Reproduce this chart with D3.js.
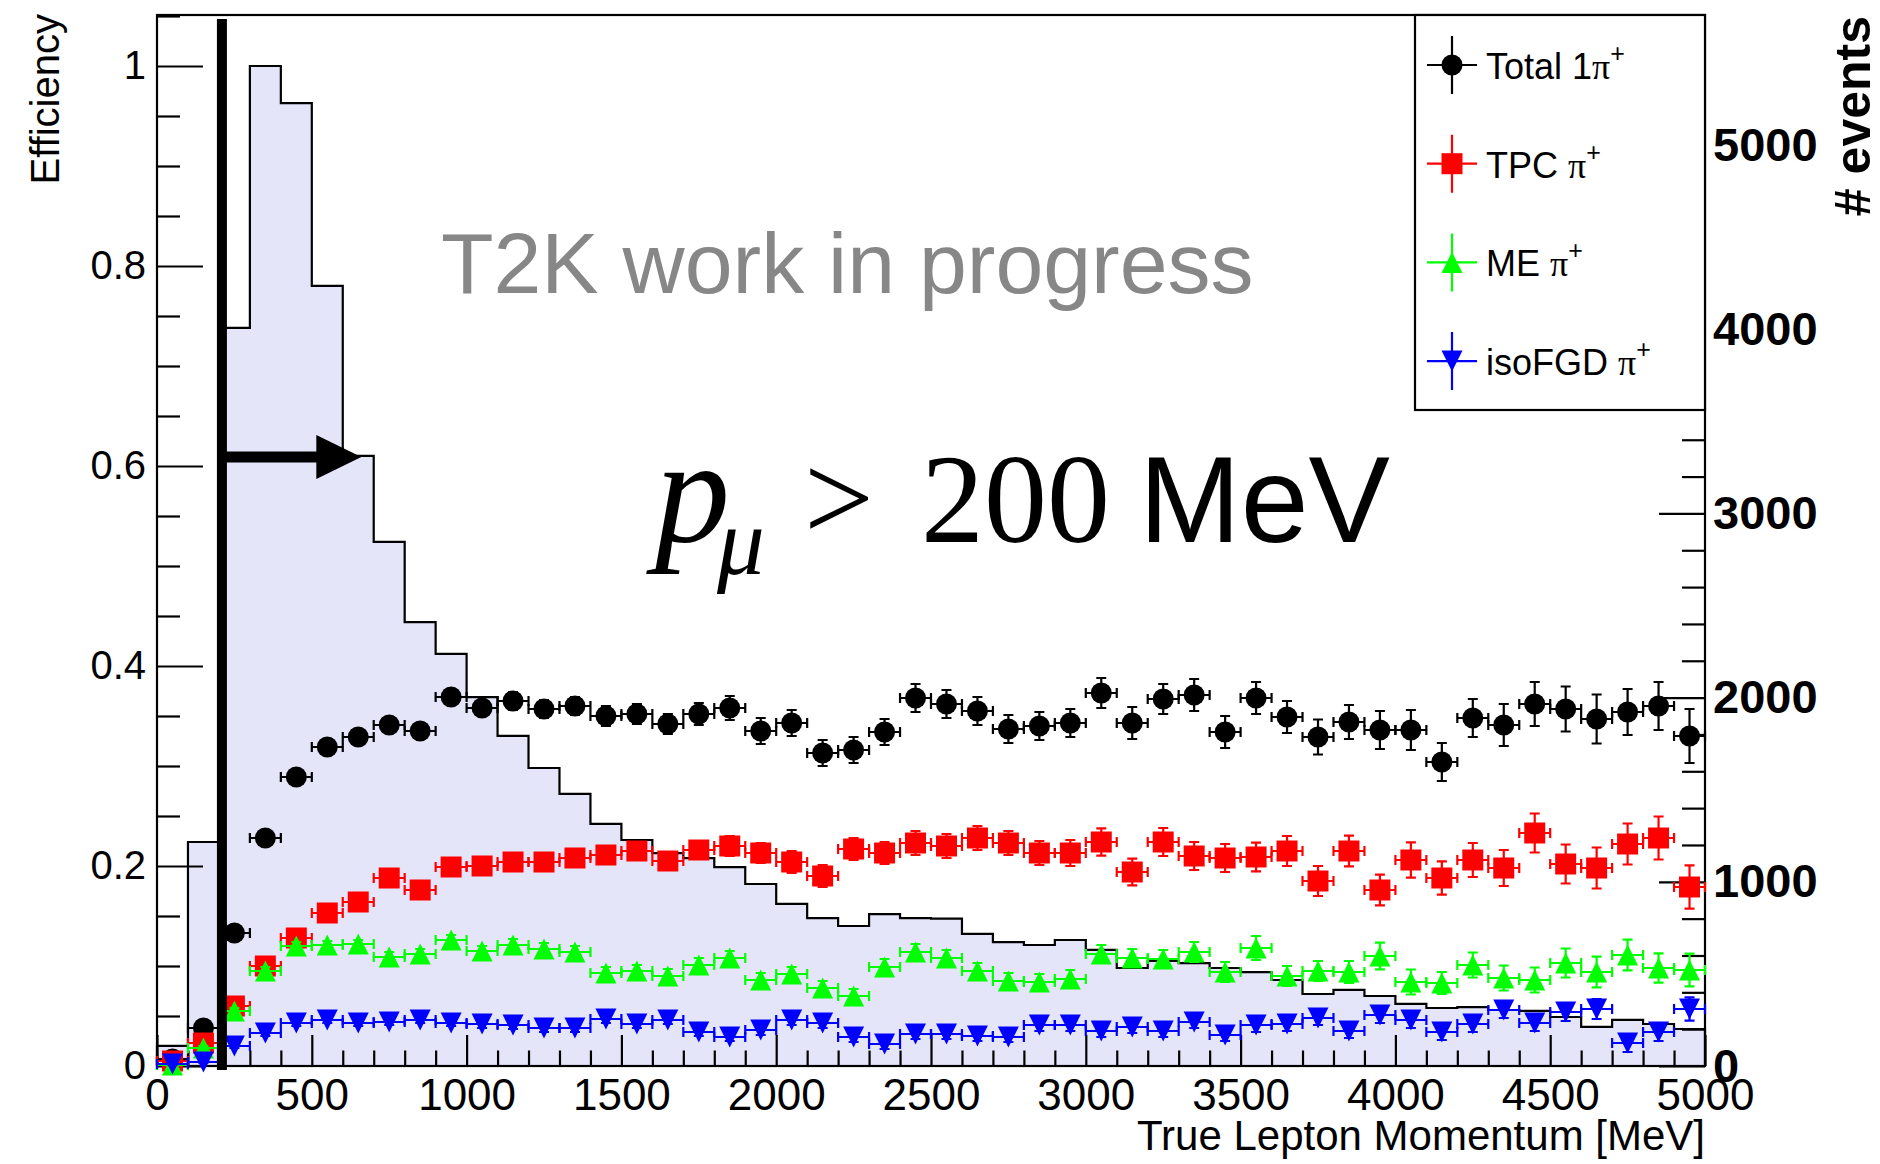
<!DOCTYPE html>
<html>
<head>
<meta charset="utf-8">
<script src="https://cdn.jsdelivr.net/npm/d3@7"></script>
<style>
  html, body { margin: 0; padding: 0; background: #fff; }
  svg { display: block; font-family: "Liberation Sans", Arial, Helvetica, sans-serif; }
</style>
</head>
<body>
<svg id="chart" width="1880" height="1164"></svg>
<script>
// ---- data ---------------------------------------------------------------
// true lepton momentum bins (MeV): centres of 100 MeV bins
const binCenters = [50,150,250,350,450,550,650,750,850,950,
  1050,1150,1250,1350,1450,1550,1650,1750,1850,1950,
  2050,2150,2250,2350,2450,2550,2650,2750,2850,2950,
  3050,3150,3250,3350,3450,3550,3650,3750,3850,3950,
  4050,4150,4250,4350,4450,4550,4650,4750,4850,4950];
const binWidth = 100;

// number of true CC1pi+ events per bin (right axis)
const histEvents = [109,1216,4007,5429,5228,4235,3312,2845,2410,2237,
  2003,1792,1618,1477,1314,1227,1156,1129,1080,988,
  880,803,760,825,803,800,717,673,657,684,
  630,532,570,559,532,510,467,391,413,380,
  337,315,320,304,299,266,212,250,228,201];

// selection efficiencies (left axis) and their uncertainties
const effTotal = [0.007,0.038,0.133,0.228,0.289,0.319,0.329,0.341,0.335,0.369,
  0.358,0.365,0.357,0.360,0.350,0.352,0.342,0.352,0.358,0.335,
  0.343,0.313,0.316,0.334,0.368,0.362,0.355,0.337,0.340,0.343,
  0.373,0.343,0.367,0.371,0.334,0.368,0.349,0.329,0.344,0.336,
  0.336,0.304,0.348,0.341,0.362,0.357,0.347,0.354,0.360,0.330];
const errTotal = [0.003,0.004,0.005,0.005,0.005,0.006,0.006,0.007,0.007,0.008,
  0.008,0.009,0.009,0.009,0.010,0.010,0.010,0.011,0.012,0.013,
  0.013,0.013,0.013,0.013,0.014,0.014,0.014,0.014,0.014,0.014,
  0.015,0.016,0.015,0.016,0.016,0.016,0.016,0.0175,0.017,0.019,
  0.020,0.019,0.019,0.021,0.022,0.0225,0.0245,0.023,0.024,0.027];

const effTPC = [0.005,0.023,0.060,0.100,0.128,0.153,0.164,0.188,0.176,0.199,
  0.200,0.204,0.204,0.208,0.211,0.215,0.205,0.216,0.220,0.213,
  0.204,0.190,0.217,0.213,0.223,0.220,0.228,0.223,0.213,0.213,
  0.224,0.194,0.224,0.210,0.208,0.209,0.215,0.185,0.215,0.176,
  0.206,0.188,0.206,0.198,0.233,0.202,0.198,0.222,0.228,0.179];
const errTPC = [0.002,0.003,0.004,0.004,0.005,0.005,0.006,0.006,0.006,0.007,
  0.007,0.007,0.008,0.008,0.008,0.009,0.009,0.009,0.010,0.010,
  0.011,0.011,0.011,0.011,0.012,0.012,0.012,0.012,0.012,0.013,
  0.0137,0.0133,0.014,0.014,0.014,0.0143,0.015,0.015,0.0153,0.0153,
  0.0177,0.0167,0.017,0.018,0.0195,0.0195,0.0205,0.0205,0.0215,0.0217];

const effME = [0.001,0.018,0.055,0.095,0.120,0.121,0.122,0.109,0.112,0.126,
  0.115,0.121,0.117,0.114,0.093,0.095,0.090,0.101,0.108,0.086,
  0.092,0.078,0.070,0.099,0.114,0.108,0.095,0.085,0.084,0.087,
  0.112,0.108,0.107,0.114,0.094,0.118,0.090,0.095,0.094,0.110,
  0.084,0.083,0.101,0.088,0.086,0.103,0.094,0.111,0.098,0.096];
const errME = [0.001,0.002,0.003,0.004,0.004,0.004,0.004,0.005,0.005,0.005,
  0.005,0.006,0.006,0.006,0.006,0.006,0.007,0.007,0.007,0.007,
  0.007,0.007,0.007,0.008,0.008,0.008,0.008,0.008,0.008,0.009,
  0.009,0.009,0.009,0.010,0.010,0.012,0.010,0.010,0.011,0.0133,
  0.0125,0.011,0.0125,0.0125,0.0125,0.0145,0.0153,0.0153,0.0147,0.0163];

const effIsoFGD = [0.002,0.004,0.020,0.033,0.043,0.046,0.043,0.044,0.046,0.043,
  0.042,0.041,0.038,0.038,0.047,0.042,0.046,0.034,0.029,0.036,
  0.046,0.043,0.029,0.022,0.032,0.032,0.030,0.029,0.041,0.041,
  0.035,0.039,0.035,0.044,0.031,0.041,0.042,0.048,0.035,0.051,
  0.046,0.034,0.042,0.056,0.043,0.054,0.057,0.023,0.034,0.057];
const errIsoFGD = [0.001,0.001,0.002,0.003,0.003,0.003,0.003,0.003,0.003,0.003,
  0.004,0.004,0.004,0.004,0.004,0.004,0.004,0.004,0.004,0.005,
  0.005,0.005,0.005,0.005,0.005,0.005,0.005,0.005,0.006,0.006,
  0.006,0.006,0.006,0.006,0.006,0.007,0.007,0.007,0.007,0.008,
  0.008,0.008,0.008,0.008,0.008,0.009,0.010,0.009,0.009,0.0117];

// axis ticks
const effTicks = [0, 0.2, 0.4, 0.6, 0.8, 1];
const effMinorTicks = [0.05,0.1,0.15,0.25,0.3,0.35,0.45,0.5,0.55,0.65,0.7,0.75,0.85,0.9,0.95,1.05];
const momentumTicks = [0,500,1000,1500,2000,2500,3000,3500,4000,4500,5000];
const momentumMinorTicks = [100,200,300,400,600,700,800,900,1100,1200,1300,1400,1600,1700,1800,1900,
  2100,2200,2300,2400,2600,2700,2800,2900,3100,3200,3300,3400,3600,3700,3800,3900,
  4100,4200,4300,4400,4600,4700,4800,4900];
const eventTicks = [0,1000,2000,3000,4000,5000];
const eventMinorTicks = [200,400,600,800,1200,1400,1600,1800,2200,2400,2600,2800,
  3200,3400,3600,3800,4200,4400,4600,4800,5200,5400,5600];

// legend labels: prefix text, then pi^+
const legendPrefixes = ["Total 1", "TPC ", "ME ", "isoFGD "];
const muonCut = 200;   // MeV

// ---- drawing ------------------------------------------------------------
const SANS = "'Liberation Sans', Arial, Helvetica, sans-serif";
const SERIF = "'Liberation Serif', 'Times New Roman', Times, serif";
const svg = d3.select("#chart");
const frame = { left: 157, right: 1705, top: 15, bottom: 1066 };

const x = d3.scaleLinear().domain([0, 5000]).range([frame.left, frame.right]);
const y = d3.scaleLinear().domain([0, 1.051]).range([frame.bottom, frame.top]);
const yEv = d3.scaleLinear().domain([0, 5706]).range([frame.bottom, frame.top]);

// histogram of true events
const lastEdge = binCenters[binCenters.length - 1] + binWidth / 2;
const histPts = [{ e: 0, v: 0 }]
  .concat(binCenters.map((c, i) => ({ e: c - binWidth / 2, v: histEvents[i] })))
  .concat([{ e: lastEdge, v: histEvents[histEvents.length - 1] }, { e: lastEdge, v: 0 }]);

svg.append("path")
  .datum(histPts)
  .attr("fill", "#e5e5fa")
  .attr("stroke", "none")
  .attr("d", d3.area().x(d => x(d.e)).y0(yEv(0)).y1(d => yEv(d.v)).curve(d3.curveStepAfter));
svg.append("path")
  .datum(histPts)
  .attr("fill", "none")
  .attr("stroke", "#000")
  .attr("stroke-width", 2.2)
  .attr("d", d3.line().x(d => x(d.e)).y(d => yEv(d.v)).curve(d3.curveStepAfter));

// frame
svg.append("rect")
  .attr("x", frame.left).attr("y", frame.top)
  .attr("width", frame.right - frame.left).attr("height", frame.bottom - frame.top)
  .attr("fill", "none").attr("stroke", "#000").attr("stroke-width", 2.2);

function tidy(g, size, weight) {
  g.select(".domain").remove();
  g.selectAll("line").attr("stroke", "#000").attr("stroke-width", 2.2);
  g.attr("font-family", SANS).attr("font-size", size).attr("font-weight", weight || "normal");
  g.selectAll("text").attr("fill", "#000");
}

// left axis: efficiency
svg.append("g").attr("transform", `translate(${frame.left},0)`)
  .call(d3.axisLeft(y).tickValues(effTicks).tickFormat(d => String(d))
    .tickSizeInner(-46).tickSizeOuter(0).tickPadding(11))
  .call(g => tidy(g, 40));
svg.append("g").attr("transform", `translate(${frame.left},0)`)
  .call(d3.axisLeft(y).tickValues(effMinorTicks).tickFormat("")
    .tickSizeInner(-23).tickSizeOuter(0))
  .call(g => tidy(g, 10));

// bottom axis: momentum
svg.append("g").attr("transform", `translate(0,${frame.bottom})`)
  .call(d3.axisBottom(x).tickValues(momentumTicks).tickFormat(d => String(d))
    .tickSizeInner(-31).tickSizeOuter(0).tickPadding(13))
  .call(g => tidy(g, 44));
svg.append("g").attr("transform", `translate(0,${frame.bottom})`)
  .call(d3.axisBottom(x).tickValues(momentumMinorTicks).tickFormat("")
    .tickSizeInner(-15.5).tickSizeOuter(0))
  .call(g => tidy(g, 10));

// right axis: number of events
svg.append("g").attr("transform", `translate(${frame.right},0)`)
  .call(d3.axisRight(yEv).tickValues(eventTicks).tickFormat(d => String(d))
    .tickSizeInner(-46).tickSizeOuter(0).tickPadding(8))
  .call(g => tidy(g, 47, "bold"));
svg.append("g").attr("transform", `translate(${frame.right},0)`)
  .call(d3.axisRight(yEv).tickValues(eventMinorTicks).tickFormat("")
    .tickSizeInner(-23).tickSizeOuter(0))
  .call(g => tidy(g, 10));

// axis titles
svg.append("text")
  .attr("transform", "translate(59,14) rotate(-90)")
  .attr("text-anchor", "end").attr("font-size", 40)
  .text("Efficiency");
svg.append("text")
  .attr("transform", "translate(1870,16) rotate(-90)")
  .attr("text-anchor", "end").attr("font-size", 50).attr("font-weight", "bold")
  .text("# events");
svg.append("text")
  .attr("x", frame.right).attr("y", 1150)
  .attr("text-anchor", "end").attr("font-size", 42)
  .text("True Lepton Momentum [MeV]");

// efficiency graphs
const half = 10.5, cap = 5;
const markerPath = {
  square: `M${-half},${-half}H${half}V${half}H${-half}Z`,
  up: `M0,${-half}L${half},${half}L${-half},${half}Z`,
  down: `M0,${half}L${half},${-half}L${-half},${-half}Z`
};
const series = [
  { vals: effTotal,  errs: errTotal,  color: "#000000", marker: "circle" },
  { vals: effTPC,    errs: errTPC,    color: "#ff0000", marker: "square" },
  { vals: effME,     errs: errME,     color: "#00ff00", marker: "up" },
  { vals: effIsoFGD, errs: errIsoFGD, color: "#0000ff", marker: "down" }
];

function drawMarker(g, kind, color) {
  if (kind === "circle") g.append("circle").attr("r", half).attr("fill", color);
  else g.append("path").attr("d", markerPath[kind]).attr("fill", color);
}

series.forEach(s => {
  const g = svg.append("g");
  const pts = binCenters.map((c, i) => ({ c, v: s.vals[i], e: s.errs[i] }));
  const eb = g.append("g").attr("stroke", s.color).attr("stroke-width", 2.2).attr("fill", "none");
  pts.forEach(p => {
    const cx = x(p.c), cy = y(p.v);
    const xl = x(p.c - binWidth / 2), xr = x(p.c + binWidth / 2);
    const yt = y(p.v + p.e), yb = y(p.v - p.e);
    eb.append("path").attr("d",
      `M${xl},${cy}H${xr}M${xl},${cy - cap}V${cy + cap}M${xr},${cy - cap}V${cy + cap}` +
      `M${cx},${yt}V${yb}M${cx - cap},${yt}H${cx + cap}M${cx - cap},${yb}H${cx + cap}`);
  });
  pts.forEach(p => {
    const m = g.append("g").attr("transform", `translate(${x(p.c)},${y(p.v)})`);
    drawMarker(m, s.marker, s.color);
  });
});

// preliminary label
svg.append("text")
  .attr("x", 441).attr("y", 293)
  .attr("font-size", 86).attr("fill", "#878787")
  .text("T2K work in progress");

// muon momentum cut and arrow
const cutX = x(muonCut) + 3;
svg.append("line")
  .attr("x1", cutX).attr("x2", cutX)
  .attr("y1", frame.top + 4).attr("y2", frame.bottom + 4)
  .attr("stroke", "#000").attr("stroke-width", 10);
const arrowY = y(0.609), arrowTip = x(660);
svg.append("line")
  .attr("x1", cutX).attr("x2", arrowTip - 44)
  .attr("y1", arrowY).attr("y2", arrowY)
  .attr("stroke", "#000").attr("stroke-width", 11);
svg.append("path")
  .attr("d", `M${arrowTip},${arrowY}L${arrowTip - 45},${arrowY - 22}L${arrowTip - 45},${arrowY + 22}Z`)
  .attr("fill", "#000");

// p_mu > 200 MeV
const cutLabel = svg.append("g");
cutLabel.append("text").attr("x", 655).attr("y", 542)
  .style("font-family", SERIF).style("font-style", "italic").attr("font-size", 150).text("p");
cutLabel.append("text").attr("x", 717).attr("y", 574)
  .style("font-family", SERIF).style("font-style", "italic").attr("font-size", 95).text("μ");
cutLabel.append("text").attr("x", 804).attr("y", 540)
  .style("font-family", SERIF).attr("font-size", 124).text(">");
cutLabel.append("text").attr("x", 921).attr("y", 542)
  .style("font-family", SERIF).attr("font-size", 126).text("200");
cutLabel.append("text").attr("x", 1139).attr("y", 542)
  .style("font-family", SANS).attr("font-size", 122).text("MeV");

// legend
const legend = svg.append("g");
legend.append("rect")
  .attr("x", 1415).attr("y", frame.top)
  .attr("width", frame.right - 1415).attr("height", 410 - frame.top)
  .attr("fill", "#fff").attr("stroke", "#000").attr("stroke-width", 2.2);
series.forEach((s, i) => {
  const cy = 65 + i * 98.7, cx = 1452;
  const e = legend.append("g");
  e.append("path")
    .attr("d", `M${cx - 25},${cy}H${cx + 25}M${cx},${cy - 29}V${cy + 29}`)
    .attr("stroke", s.color).attr("stroke-width", 2.2);
  drawMarker(e.append("g").attr("transform", `translate(${cx},${cy})`), s.marker, s.color);
  const t = e.append("text").attr("x", 1486).attr("y", cy + 14).attr("font-size", 36);
  t.append("tspan").text(legendPrefixes[i]);
  t.append("tspan").style("font-family", SERIF).text("π");
  t.append("tspan").attr("font-size", 25).attr("dy", -17).text("+");
});
</script>
</body>
</html>
